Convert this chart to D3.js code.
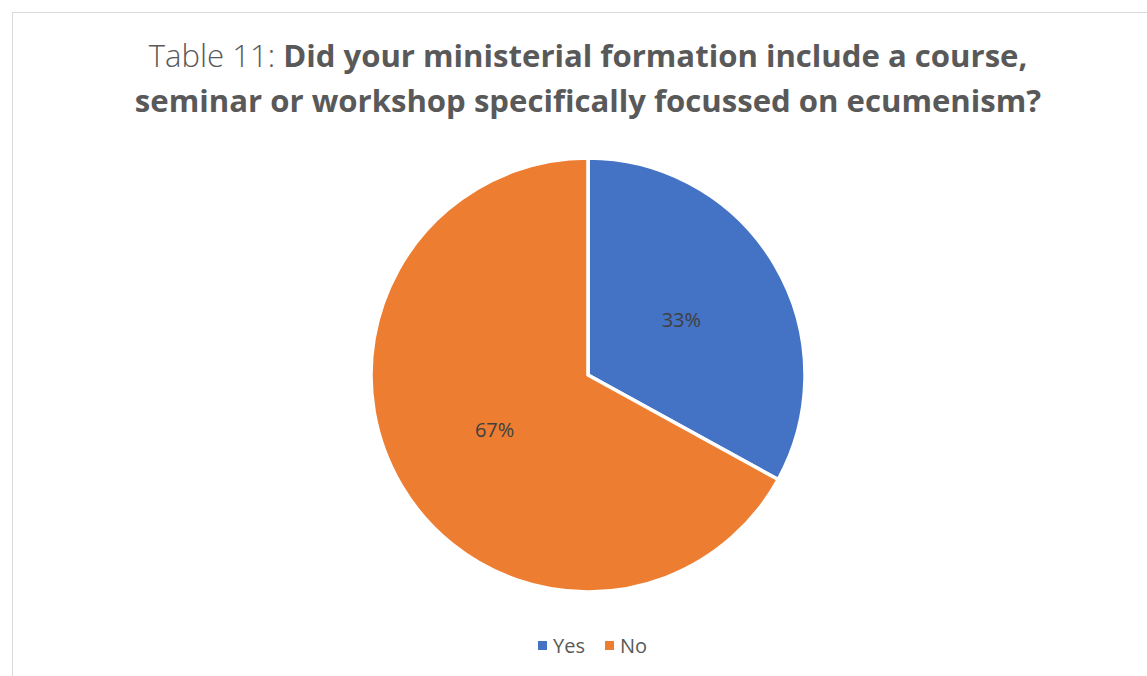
<!DOCTYPE html>
<html>
<head>
<meta charset="utf-8">
<script src="https://cdn.jsdelivr.net/npm/d3@7"></script>
<style>
  html, body { margin: 0; padding: 0; background: #fff; }
  svg { display: block; }
</style>
</head>
<body>
<svg id="chart" width="1147" height="676"></svg>
<script>
// Survey answers and their shares
const categories = ["Yes", "No"];
const shares = [0.33, 0.67];
const colors = ["#4472C4", "#ED7D31"];
const titlePrefix = "Table 11: ";
const titleLine1 = "Did your ministerial formation include a course,";
const titleLine2 = "seminar or workshop specifically focussed on ecumenism?";

const W = 1147, H = 676;
const svg = d3.select("#chart");
const font = "'Open Sans', 'Liberation Sans', sans-serif";

// Chart area frame
svg.append("rect")
  .attr("x", 12.5).attr("y", 12.5)
  .attr("width", W).attr("height", H)
  .attr("fill", "#fff")
  .attr("stroke", "#d9d9d9").attr("stroke-width", 1);

// Title, two centred lines; font size fitted to the line widths
const title = svg.append("text")
  .attr("text-anchor", "middle")
  .attr("font-family", font)
  .attr("fill", "#595959");

const l1 = title.append("tspan").attr("x", 588).attr("y", 67);
l1.append("tspan").attr("font-weight", 300).text(titlePrefix);
l1.append("tspan").attr("font-weight", 700).text(titleLine1);
const l2 = title.append("tspan").attr("x", 588).attr("y", 112)
  .attr("font-weight", 700).text(titleLine2);

title.attr("font-size", 26);
const w1 = l1.node().getComputedTextLength();
const w2 = l2.node().getComputedTextLength();
const fit = ((882 / w1) + (903 / w2)) / 2;
title.attr("font-size", 26 * fit);

// Pie
const cx = 588, cy = 375, r = 217;
const pie = d3.pie().sort(null).value(d => d);
const arcs = pie(shares);
const arc = d3.arc().innerRadius(0).outerRadius(r);
const g = svg.append("g").attr("transform", `translate(${cx},${cy})`);

g.selectAll("path")
  .data(arcs)
  .join("path")
  .attr("d", arc)
  .attr("fill", (d, i) => colors[i])
  .attr("stroke", "#fff")
  .attr("stroke-width", 3.5)
  .attr("stroke-linejoin", "round");

// Percentage labels inside slices
const labelArc = d3.arc().innerRadius(r * 0.5).outerRadius(r * 0.5);
g.selectAll("text.lbl")
  .data(arcs)
  .join("text")
  .attr("class", "lbl")
  .attr("transform", d => {
    const [x, y] = labelArc.centroid(d);
    return `translate(${x},${y})`;
  })
  .attr("text-anchor", "middle")
  .attr("dy", "0.35em")
  .attr("font-family", font)
  .attr("font-size", 20)
  .attr("fill", "#404040")
  .text((d, i) => d3.format(".0%")(shares[i]));

// Legend
const legend = svg.append("g").attr("font-family", font).attr("font-size", 20).attr("fill", "#595959");
const legendX = [538, 605];
categories.forEach((c, i) => {
  legend.append("rect")
    .attr("x", legendX[i]).attr("y", 641)
    .attr("width", 9).attr("height", 9)
    .attr("fill", colors[i]);
  legend.append("text")
    .attr("x", legendX[i] + 15).attr("y", 652.5)
    .text(c);
});
</script>
</body>
</html>
